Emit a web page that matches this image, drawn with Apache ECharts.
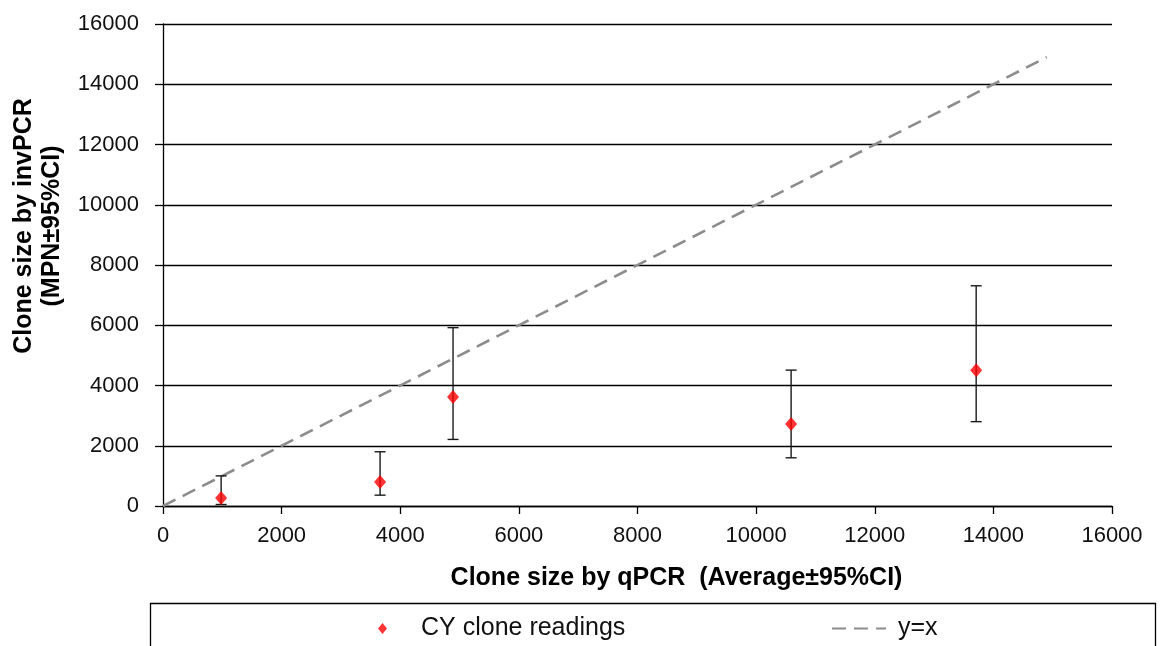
<!DOCTYPE html>
<html>
<head>
<meta charset="utf-8">
<script src="https://cdn.jsdelivr.net/npm/echarts@6/dist/echarts.min.js"></script>
<style>
  html, body { margin: 0; padding: 0; background: #fff; }
  #chart { width: 1160px; height: 646px; }
</style>
</head>
<body>
<div id="chart"></div>
<script>
// qPCR clone size (x) against invPCR MPN (y), with 95% CI on the invPCR estimate
const qpcr = [980, 3660, 4890, 10590, 13710];
const mpn = [265, 800, 3620, 2720, 4510];
const ciLow = [50, 360, 2210, 1600, 2800];
const ciHigh = [1000, 1800, 5920, 4510, 7310];
const identityLine = [[0, 0], [14900, 14900]];
const axisTicks = [0, 2000, 4000, 6000, 8000, 10000, 12000, 14000, 16000];

const points = qpcr.map((x, i) => [x, mpn[i]]);
const bars = qpcr.map((x, i) => [x, ciLow[i], ciHigh[i]]);

const chart = echarts.init(document.getElementById('chart'));
const fontFamily = 'Liberation Sans, Arial, sans-serif';
const plain = v => String(v);

chart.setOption({
  animation: false,
  backgroundColor: '#fff',
  grid: { left: 163, right: 48, top: 24, bottom: 140, outerBoundsMode: 'none', containLabel: false },
  xAxis: {
    type: 'value',
    min: axisTicks[0], max: axisTicks[axisTicks.length - 1], interval: 2000,
    name: 'Clone size by qPCR  (Average\u00b195%CI)',
    nameLocation: 'middle', nameGap: 60,
    nameTextStyle: { fontFamily, fontSize: 25, fontWeight: 'bold', color: '#000', padding: [0, 0, 0, 78] },
    axisLine: { lineStyle: { color: '#000', width: 1.3 } },
    axisTick: { show: true, length: 8, inside: false, lineStyle: { color: '#000', width: 1.3 } },
    axisLabel: { fontFamily, fontSize: 22, color: '#111', margin: 19, formatter: plain },
    splitLine: { show: false }
  },
  yAxis: {
    type: 'value',
    min: axisTicks[0], max: axisTicks[axisTicks.length - 1], interval: 2000,
    name: 'Clone size by invPCR\n(MPN\u00b195%CI)',
    nameLocation: 'middle', nameGap: 97, nameRotate: 90,
    nameTextStyle: { fontFamily, fontSize: 25, fontWeight: 'bold', color: '#000', lineHeight: 28, padding: [0, 0, 0, 78] },
    axisLine: { show: true, lineStyle: { color: '#000', width: 1.3 } },
    axisTick: { show: true, length: 8, inside: false, lineStyle: { color: '#000', width: 1.3 } },
    axisLabel: { fontFamily, fontSize: 22, color: '#111', margin: 24, formatter: plain },
    splitLine: { show: true, lineStyle: { color: '#000', width: 1.3 } }
  },
  legend: [
    {
      data: ['CY clone readings'],
      left: 373, top: 611,
      itemWidth: 9, itemHeight: 11, itemGap: 0,
      textStyle: { fontFamily, fontSize: 25, color: '#111', padding: [0, 0, 0, 29] }
    },
    {
      data: [{ name: 'y=x', itemStyle: { opacity: 0 } }],
      left: 826, top: 611,
      itemWidth: 54, itemHeight: 12,
      textStyle: { fontFamily, fontSize: 25, color: '#111', padding: [0, 0, 0, 7] }
    }
  ],
  graphic: [
    {
      type: 'rect',
      shape: { x: 150.5, y: 603.5, width: 1005, height: 60 },
      style: { fill: 'none', stroke: '#000', lineWidth: 1.3 },
      silent: true
    }
  ],
  series: [
    {
      name: 'y=x',
      type: 'line',
      data: identityLine,
      symbol: 'none',
      lineStyle: { color: '#8c8c8c', width: 2.6, type: [14, 8] },
      itemStyle: { color: '#8c8c8c' },
      z: 2
    },
    {
      name: 'CI',
      type: 'custom',
      data: bars,
      renderItem: function (params, api) {
        const x = api.value(0);
        const lo = api.coord([x, api.value(1)]);
        const hi = api.coord([x, api.value(2)]);
        const cap = 5.5;
        const style = { stroke: '#1a1a1a', lineWidth: 1.4 };
        return {
          type: 'group',
          children: [
            { type: 'line', shape: { x1: lo[0], y1: lo[1], x2: hi[0], y2: hi[1] }, style },
            { type: 'line', shape: { x1: lo[0] - cap, y1: lo[1], x2: lo[0] + cap, y2: lo[1] }, style },
            { type: 'line', shape: { x1: hi[0] - cap, y1: hi[1], x2: hi[0] + cap, y2: hi[1] }, style }
          ]
        };
      },
      z: 3
    },
    {
      name: 'CY clone readings',
      type: 'scatter',
      data: points,
      symbol: 'diamond',
      symbolSize: [12, 14],
      itemStyle: { color: '#ff0000' },
      z: 4
    }
  ]
});
</script>
</body>
</html>
